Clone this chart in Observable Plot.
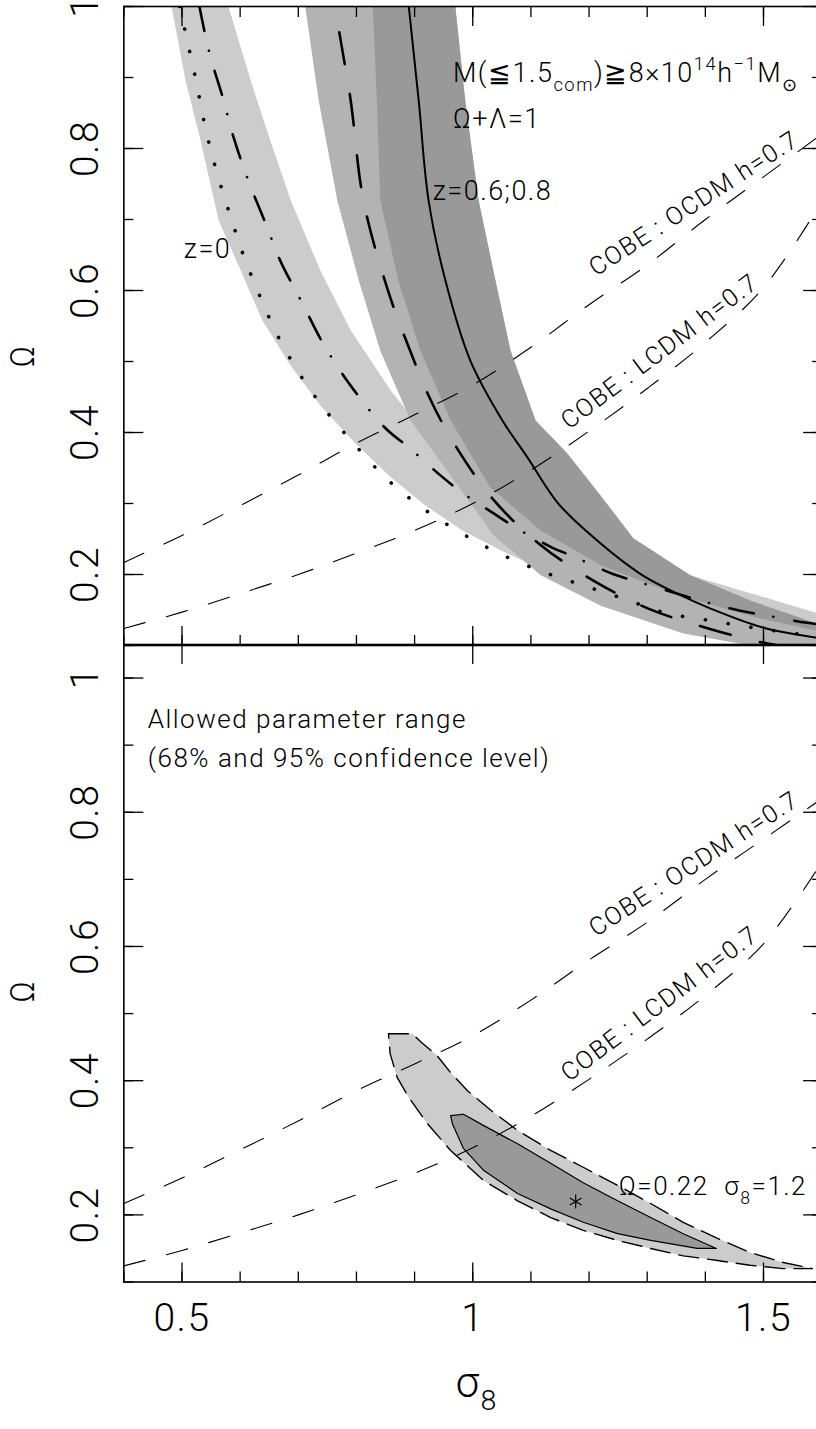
<!DOCTYPE html>
<html><head><meta charset="utf-8">
<script src="https://cdn.jsdelivr.net/npm/d3@7"></script>
<script src="https://cdn.jsdelivr.net/npm/@observablehq/plot@0.6"></script>
<style>
html,body{margin:0;padding:0;background:#fff;}
body{width:816px;height:1429px;overflow:hidden;}
#top,#bot{display:block;}
#bot{margin-top:-8px;}
svg{display:block;overflow:visible;}
</style></head><body>
<div id="top"></div><div id="bot"></div>
<script>
// ---------- ticks ----------
const sigmaMajor = [0.5, 1.0, 1.5];
const sigmaMinor = [0.4, 0.5, 0.6, 0.7, 0.8, 0.9, 1.0, 1.1, 1.2, 1.3, 1.4, 1.5, 1.6];
const sigmaLabels = ["0.5", "1", "1.5"];
const omegaMajor = [0.2, 0.4, 0.6, 0.8, 1.0];
const omegaMinor = [0.1, 0.2, 0.3, 0.4, 0.5, 0.6, 0.7, 0.8, 0.9, 1.0];
const omegaLabels = ["0.2", "0.4", "0.6", "0.8", "1"];

// ---------- top panel: bands [sigma8, Omega] ----------
const bandZ0 = [
  [0.480,1.05],[0.482,1.0],[0.506,0.896],[0.532,0.811],[0.563,0.699],[0.601,0.628],[0.638,0.558],
  [0.687,0.494],[0.738,0.438],[0.798,0.385],[0.859,0.337],[0.919,0.297],[0.982,0.262],[1.048,0.234],
  [1.117,0.208],[1.185,0.187],[1.259,0.168],[1.332,0.149],[1.409,0.137],[1.495,0.125],[1.591,0.114],[1.65,0.108],
  [1.65,0.140],[1.591,0.146],[1.374,0.199],[1.220,0.248],[1.048,0.318],[0.927,0.389],[0.859,0.459],
  [0.790,0.544],[0.738,0.628],[0.687,0.727],[0.652,0.811],[0.618,0.896],[0.580,1.0],[0.575,1.05]
];
const bandZ06 = [
  [0.708,1.05],[0.712,1.0],[0.735,0.868],[0.767,0.727],[0.804,0.614],[0.841,0.515],[0.893,0.417],
  [0.962,0.339],[1.036,0.255],[1.117,0.199],[1.220,0.156],[1.362,0.117],[1.478,0.100],[1.591,0.090],[1.65,0.085],
  [1.65,0.125],[1.591,0.131],[1.478,0.163],[1.374,0.199],[1.276,0.251],[1.220,0.311],[1.163,0.370],
  [1.108,0.417],[1.065,0.515],[1.039,0.614],[1.010,0.727],[0.987,0.868],[0.970,1.0],[0.965,1.05]
];
const bandZ08 = [
  [0.826,1.05],[0.828,1.0],[0.835,0.868],[0.841,0.727],[0.872,0.614],[0.910,0.515],[0.962,0.417],
  [1.030,0.323],[1.117,0.262],[1.220,0.213],[1.357,0.170],[1.495,0.138],[1.591,0.121],[1.65,0.115],
  [1.65,0.125],[1.591,0.131],[1.478,0.163],[1.374,0.199],[1.276,0.251],[1.220,0.311],[1.163,0.370],
  [1.108,0.417],[1.065,0.515],[1.039,0.614],[1.010,0.727],[0.987,0.868],[0.970,1.0],[0.965,1.05]
];
// ---------- top panel: curves ----------
const curveSolid = [
  [0.885,1.05],[0.890,1.0],[0.907,0.868],[0.924,0.727],[0.953,0.614],[0.996,0.501],[1.051,0.417],
  [1.094,0.365],[1.146,0.301],[1.208,0.252],[1.288,0.201],[1.352,0.173],[1.409,0.152],[1.500,0.125],
  [1.591,0.111],[1.65,0.104]
];
const curveLongDash = [
  [0.760,1.05],[0.764,1.0],[0.790,0.868],[0.812,0.727],[0.853,0.603],[0.890,0.520],[0.928,0.445],
  [0.972,0.379],[1.037,0.304],[1.116,0.242],[1.206,0.192],[1.302,0.152],[1.405,0.124],[1.505,0.103],[1.60,0.090]
];
const curveDashDot = [
  [0.530,1.0],[0.547,0.935],[0.570,0.872],[0.589,0.815],[0.614,0.755],[0.644,0.694],[0.669,0.642],
  [0.707,0.582],[0.743,0.525],[0.790,0.466],[0.850,0.406],[0.890,0.379],[0.941,0.342],[0.979,0.317],
  [1.036,0.286],[1.074,0.266],[1.134,0.239],[1.177,0.224],[1.240,0.201],[1.283,0.190],[1.352,0.173],
  [1.392,0.163],[1.460,0.149],[1.507,0.142],[1.575,0.132],[1.65,0.125]
];
const curveDotted = [
  [0.496,1.0],[0.509,0.952],[0.525,0.892],[0.540,0.830],[0.559,0.769],[0.582,0.708],[0.606,0.649],
  [0.635,0.590],[0.666,0.534],[0.704,0.480],[0.747,0.431],[0.798,0.382],[0.853,0.334],[0.913,0.294],
  [0.979,0.259],[1.042,0.231],[1.113,0.206],[1.185,0.186],[1.259,0.166],[1.331,0.146],[1.409,0.135],
  [1.483,0.125],[1.591,0.113],[1.65,0.108]
];
// ---------- COBE normalisation curves (both panels) ----------
const cobeOCDM = [
  [0.4,0.217],[0.5,0.255],[0.6,0.297],[0.7,0.340],[0.8,0.385],[0.9,0.425],[1.0,0.467],
  [1.1,0.520],[1.2,0.580],[1.3,0.636],[1.4,0.700],[1.5,0.760],[1.6,0.820]
];
const cobeLCDM = [
  [0.4,0.124],[0.5,0.147],[0.6,0.173],[0.7,0.200],[0.8,0.230],[0.9,0.262],[1.0,0.300],
  [1.1,0.347],[1.2,0.402],[1.3,0.462],[1.4,0.527],[1.5,0.604],[1.6,0.725]
];
// ---------- bottom panel: confidence contours ----------
const contour95 = [
  [0.855,0.470],[0.896,0.470],[0.912,0.457],[0.939,0.437],[0.962,0.412],[0.991,0.385],[1.031,0.356],
  [1.077,0.326],[1.134,0.296],[1.190,0.271],[1.249,0.244],[1.306,0.217],[1.362,0.189],[1.421,0.165],
  [1.477,0.144],[1.534,0.129],[1.584,0.120],
  [1.534,0.120],[1.477,0.125],[1.421,0.132],[1.362,0.139],[1.306,0.150],[1.249,0.162],[1.190,0.177],
  [1.134,0.196],[1.077,0.221],[1.019,0.251],[0.962,0.296],[0.922,0.336],[0.890,0.375],[0.870,0.405],
  [0.858,0.440]
];
const contour68 = [
  [0.962,0.348],[0.984,0.350],[1.019,0.333],[1.077,0.306],[1.134,0.277],[1.190,0.248],[1.249,0.221],
  [1.306,0.196],[1.362,0.172],[1.419,0.150],
  [1.386,0.150],[1.306,0.162],[1.249,0.172],[1.190,0.189],[1.134,0.209],[1.077,0.232],[1.019,0.266],
  [0.984,0.299],[0.965,0.336]
];
const bestFit = [[1.177, 0.220]];

// ---------- annotations ----------
const topNotes = [
  {s: 0.966, o: 0.893, text: "M(≦1.5_{com})≧8×10^{14}h^{−1}M_{⊙}"},
  {s: 0.966, o: 0.829, text: "Ω+Λ=1"}
];
const zNotes = [
  {s: 0.931, o: 0.727, text: "z=0.6;0.8"},
  {s: 0.503, o: 0.646, text: "z=0"}
];
const cobeNotes = [
  {s: 1.388, o: 0.713, text: "COBE : OCDM h=0.7", angle: -33},
  {s: 1.330, o: 0.505, text: "COBE : LCDM h=0.7", angle: -37}
];
const botNotes = [
  {s: 0.441, o: 0.926, text: "Allowed parameter range"},
  {s: 0.441, o: 0.867, text: "(68% and 95% confidence level)"},
  {s: 1.251, o: 0.229, text: "Ω=0.22  σ_{8}=1.2"}
];

const P = {x: d => d[0], y: d => d[1]};
const FONT = "Roboto, 'Liberation Sans', sans-serif";
const STYLE = `background:transparent;overflow:visible;font-family:${FONT};font-weight:300;letter-spacing:1.5px;`;
const blank = () => "";

function frameAxes(opts) {
  const t = {tickFormat: blank, label: null, strokeWidth: 1.3};
  const m = [
    Plot.axisY(omegaMajor, {anchor: "left", tickSize: -20, ...t}),
    Plot.axisY(omegaMinor, {anchor: "left", tickSize: -10, ...t}),
    Plot.axisY(omegaMajor, {anchor: "right", tickSize: -19, ...t}),
    Plot.axisY(omegaMinor, {anchor: "right", tickSize: -10, ...t}),
    Plot.axisX(sigmaMajor, {anchor: "bottom", tickSize: -19, ...t}),
    Plot.axisX(sigmaMinor, {anchor: "bottom", tickSize: -10, ...t}),
    Plot.axisX(sigmaMajor, {anchor: "top", tickSize: -19, ...t})
  ];
  if (opts.topMinor) m.push(Plot.axisX(sigmaMinor, {anchor: "top", tickSize: -10, ...t}));
  m.push(Plot.frame({stroke: "black", strokeWidth: 1.6}));
  m.push(Plot.text(omegaMajor, {y: d => d, text: (d, i) => omegaLabels[i], frameAnchor: "left", dx: -26,
    rotate: -90, textAnchor: "middle", lineAnchor: "bottom", fontSize: 39, ariaLabel: "ticklabels"}));
  m.push(Plot.text(["Ω"], {frameAnchor: "left", dx: -90, dy: opts.titleDy, rotate: -90,
    textAnchor: "middle", lineAnchor: "bottom", fontSize: 33, ariaLabel: "ytitle"}));
  return m;
}

function cobeMarks() {
  return [
    Plot.line(cobeOCDM, {...P, stroke: "black", strokeWidth: 1.1, strokeDasharray: "22,22", curve: "catmull-rom", clip: true}),
    Plot.line(cobeLCDM, {...P, stroke: "black", strokeWidth: 1.1, strokeDasharray: "22,22", curve: "catmull-rom", clip: true}),
    Plot.text(cobeNotes, {x: "s", y: "o", text: "text", rotate: d => d.angle, textAnchor: "middle",
      lineAnchor: "bottom", fontSize: 25})
  ];
}

const topPlot = Plot.plot({
  width: 816, height: 650,
  marginLeft: 123.35, marginRight: -5.15, marginTop: 6, marginBottom: 5,
  x: {domain: [0.4, 1.6]},
  y: {domain: [0.1, 1.0]},
  style: STYLE,
  marks: [
    Plot.line(bandZ0, {...P, fill: "#cccccc", stroke: "none", curve: "linear-closed", clip: true}),
    Plot.line(bandZ06, {...P, fill: "#b3b3b3", stroke: "none", curve: "linear-closed", clip: true}),
    Plot.line(bandZ08, {...P, fill: "#999999", stroke: "none", curve: "linear-closed", clip: true}),
    ...cobeMarks(),
    Plot.line(curveDotted, {...P, stroke: "black", strokeWidth: 3.6, strokeDasharray: "0.1,23", strokeLinecap: "round", curve: "catmull-rom", clip: true}),
    Plot.line(curveDashDot, {...P, stroke: "black", strokeWidth: 2.6, strokeDasharray: "25,20,0.1,21", strokeLinecap: "round", curve: "catmull-rom", clip: true}),
    Plot.line(curveLongDash, {...P, stroke: "black", strokeWidth: 2.6, strokeDasharray: "32,30", curve: "catmull-rom", clip: true}),
    Plot.line(curveSolid, {...P, stroke: "black", strokeWidth: 2, curve: "catmull-rom", clip: true}),
    Plot.text(topNotes, {x: "s", y: "o", text: "text", textAnchor: "start", lineAnchor: "bottom", fontSize: 27}),
    Plot.text(zNotes, {x: "s", y: "o", text: "text", textAnchor: "start", lineAnchor: "bottom", fontSize: 27}),
    ...frameAxes({topMinor: true, titleDy: 30})
  ]
});

const botPlot = Plot.plot({
  width: 816, height: 787,
  marginLeft: 123.35, marginRight: -5.15, marginTop: 2, marginBottom: 147.5,
  x: {domain: [0.4, 1.6]},
  y: {domain: [0.1, 1.05]},
  style: STYLE,
  marks: [
    Plot.line(contour95, {...P, fill: "#cccccc", stroke: "black", strokeWidth: 1.4, strokeDasharray: "20,9", curve: "linear-closed"}),
    Plot.line(contour68, {...P, fill: "#999999", stroke: "black", strokeWidth: 1.2, curve: "linear-closed"}),
    ...cobeMarks(),
    Plot.dot(bestFit, {...P, symbol: "asterisk", r: 6.5, stroke: "black", strokeWidth: 1.2}),
    Plot.text(botNotes, {x: "s", y: "o", text: "text", textAnchor: "start", lineAnchor: "bottom", fontSize: 26}),
    ...frameAxes({topMinor: false, titleDy: 28}),
    Plot.text(sigmaMajor, {x: d => d, text: (d, i) => sigmaLabels[i], frameAnchor: "bottom", dy: 48.5,
      lineAnchor: "bottom", fontSize: 39, ariaLabel: "ticklabels"}),
    Plot.text(["σ_{8}"], {frameAnchor: "bottom", dx: 4, dy: 115, lineAnchor: "bottom", fontSize: 42})
  ]
});

document.getElementById("top").appendChild(topPlot);
document.getElementById("bot").appendChild(botPlot);

// wider spacing on tick labels, none on the rotated Ω titles
for (const svg of [topPlot, botPlot]) {
  svg.querySelectorAll('g[aria-label="ticklabels"]').forEach(g => g.style.letterSpacing = "3px");
  svg.querySelectorAll('g[aria-label="ytitle"]').forEach(g => g.style.letterSpacing = "0px");
}

// sub/superscript markup -> tspans
function richify(svg) {
  svg.querySelectorAll("text").forEach(t => {
    const s = t.textContent;
    if (!/[_^]\{/.test(s)) return;
    const fs = parseFloat(getComputedStyle(t).fontSize) || 24;
    const parts = [];
    const re = /([_^])\{([^}]*)\}/g;
    let last = 0, m;
    while ((m = re.exec(s))) {
      if (m.index > last) parts.push({type: "n", str: s.slice(last, m.index)});
      parts.push({type: m[1] === "_" ? "sub" : "sup", str: m[2]});
      last = re.lastIndex;
    }
    if (last < s.length) parts.push({type: "n", str: s.slice(last)});
    while (t.firstChild) t.removeChild(t.firstChild);
    let shift = 0;
    for (const p of parts) {
      const ts = document.createElementNS("http://www.w3.org/2000/svg", "tspan");
      let target = 0;
      if (p.type === "sub") { target = 0.32 * fs; ts.setAttribute("font-size", 0.68 * fs); }
      if (p.type === "sup") { target = -0.45 * fs; ts.setAttribute("font-size", 0.68 * fs); }
      const dy = target - shift;
      if (dy !== 0) ts.setAttribute("dy", dy);
      shift = target;
      ts.textContent = p.str;
      t.appendChild(ts);
    }
  });
}
richify(topPlot);
richify(botPlot);
</script></body></html>
